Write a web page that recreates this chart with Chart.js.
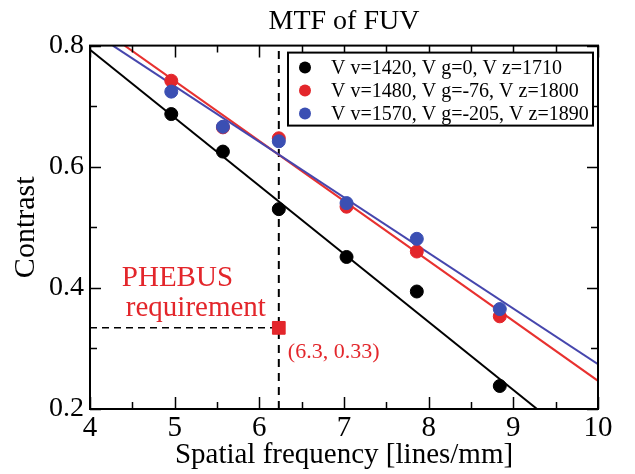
<!DOCTYPE html>
<html lang="en">
<head>
<meta charset="utf-8">
<title>MTF of FUV</title>
<script src="https://cdn.jsdelivr.net/npm/chart.js"></script>
<style>
  body { margin: 0; background: #fff; }
</style>
</head>
<body>
<canvas id="mtfChart" width="635" height="474"></canvas>
<script>
// measured points (spatial frequency vs contrast)
const freqs = [4.96, 5.57, 6.23, 7.03, 7.86, 8.84];
const contrast1420 = [0.687, 0.625, 0.530, 0.451, 0.394, 0.238];
const contrast1480 = [0.742, 0.665, 0.647, 0.534, 0.460, 0.353];
const contrast1570 = [0.724, 0.666, 0.642, 0.540, 0.481, 0.365];
const seriesLabels = ['V v=1420, V g=0, V z=1710', 'V v=1480, V g=-76, V z=1800', 'V v=1570, V g=-205, V z=1890'];

// fitted lines, end points
const fit1420 = [[4.0, 0.793], [9.28, 0.2]];
const fit1480 = [[4.41, 0.8], [10.0, 0.2465]];
const fit1570 = [[4.27, 0.8], [10.0, 0.274]];

// PHEBUS requirement
const reqPoint = [6.23, 0.334];
const reqText = ['PHEBUS', 'requirement'];
const reqLabel = '(6.3, 0.33)';

const xRange = [4, 10];
const yRange = [0.2, 0.8];

const RED = '#e3262b';
const BLUE = '#3b4fb3';
const SERIF = "'Liberation Serif', 'Times New Roman', serif";

const pts = (xs, ys) => xs.map((x, i) => ({ x: x, y: ys[i] }));
const seg = (a) => a.map(p => ({ x: p[0], y: p[1] }));

const ctx = document.getElementById('mtfChart').getContext('2d');

// frame, inward ticks, legend box and the red notes
const decorPlugin = {
  id: 'decor',
  afterDatasetsDraw(chart) {
    const c = chart.ctx;
    const a = chart.chartArea;
    const xs = chart.scales.x, ys = chart.scales.y;
    c.save();
    c.strokeStyle = '#000';
    c.lineWidth = 2;
    c.strokeRect(a.left, a.top, a.right - a.left, a.bottom - a.top);

    // x ticks every 0.5, top and bottom
    c.lineWidth = 1.5;
    for (let v = xRange[0]; v <= xRange[1] + 1e-9; v += 0.5) {
      const px = Math.round(xs.getPixelForValue(v)) + 0.5;
      const len = Number.isInteger(v) ? 12 : 7;
      c.beginPath();
      c.moveTo(px, a.bottom); c.lineTo(px, a.bottom - len);
      c.moveTo(px, a.top); c.lineTo(px, a.top + len);
      c.stroke();
    }
    // y ticks every 0.1, left and right
    for (let k = 0; k <= 6; k++) {
      const v = yRange[0] + k * 0.1;
      const py = Math.round(ys.getPixelForValue(v)) + 0.5;
      const len = k % 2 === 0 ? 11 : 7;
      c.beginPath();
      c.moveTo(a.left, py); c.lineTo(a.left + len, py);
      c.moveTo(a.right, py); c.lineTo(a.right - len, py);
      c.stroke();
    }

    // legend
    const lx = a.left + 198, ly = a.top + 7, lw = a.right - 5 - lx, lh = 73;
    c.fillStyle = '#fff';
    c.fillRect(lx, ly, lw, lh);
    c.lineWidth = 2;
    c.strokeRect(lx, ly, lw, lh);
    c.font = '20px ' + SERIF;
    c.textBaseline = 'middle';
    c.textAlign = 'left';
    chart.data.datasets
      .filter(d => d.legendRow !== undefined)
      .sort((p, q) => p.legendRow - q.legendRow)
      .forEach((d, i) => {
        const ry = ly + 15 + i * 23;
        c.fillStyle = d.backgroundColor;
        c.beginPath();
        c.arc(lx + 17, ry, 6, 0, Math.PI * 2);
        c.fill();
        c.fillStyle = '#000';
        c.fillText(d.label, lx + 43, ry + 1);
      });

    // requirement notes
    const rx = xs.getPixelForValue(reqPoint[0]);
    const ry = ys.getPixelForValue(reqPoint[1]);
    c.fillStyle = RED;
    c.font = '29px ' + SERIF;
    c.textBaseline = 'alphabetic';
    c.fillText(reqText[0], rx - 157, ry - 42);
    c.fillText(reqText[1], rx - 153, ry - 12);
    c.font = '22px ' + SERIF;
    c.fillText(reqLabel, rx + 9, ry + 30);
    c.restore();
  }
};

new Chart(ctx, {
  type: 'scatter',
  data: {
    datasets: [
      { label: seriesLabels[2], legendRow: 2, data: pts(freqs, contrast1570), backgroundColor: BLUE, borderColor: BLUE, pointRadius: 6.5, showLine: false, order: 0 },
      { label: seriesLabels[1], legendRow: 1, data: pts(freqs, contrast1480), backgroundColor: RED, borderColor: RED, pointRadius: 6.5, showLine: false, order: 1 },
      { label: seriesLabels[0], legendRow: 0, data: pts(freqs, contrast1420), backgroundColor: '#000', borderColor: '#000', pointRadius: 6.5, showLine: false, order: 2 },
      { label: 'fit 1570', data: seg(fit1570), showLine: true, borderColor: '#4646ad', borderWidth: 2, pointRadius: 0, order: 4 },
      { label: 'fit 1480', data: seg(fit1480), showLine: true, borderColor: '#e8312f', borderWidth: 2, pointRadius: 0, order: 5 },
      { label: 'fit 1420', data: seg(fit1420), showLine: true, borderColor: '#000', borderWidth: 2, pointRadius: 0, order: 6 },
      { label: 'req x', data: [{ x: reqPoint[0], y: yRange[0] }, { x: reqPoint[0], y: yRange[1] }], showLine: true, borderColor: '#000', borderWidth: 2, borderDash: [8, 6], pointRadius: 0, order: 7 },
      { label: 'req y', data: [{ x: xRange[0], y: reqPoint[1] }, { x: reqPoint[0], y: reqPoint[1] }], showLine: true, borderColor: '#000', borderWidth: 1.5, borderDash: [7, 5], pointRadius: 0, order: 8 },
      { label: 'req', data: [{ x: reqPoint[0], y: reqPoint[1] }], pointStyle: 'rect', pointRadius: 9, backgroundColor: RED, borderColor: RED, showLine: false, order: 3 }
    ]
  },
  options: {
    responsive: false,
    animation: false,
    layout: { padding: { top: 0, right: 37, left: 0, bottom: 0 } },
    plugins: {
      legend: { display: false },
      tooltip: { enabled: false },
      title: {
        display: true,
        text: 'MTF of FUV',
        fullSize: false,
        color: '#000',
        font: { family: SERIF, size: 28, weight: 'normal' },
        padding: { top: 5, bottom: 7 }
      }
    },
    scales: {
      x: {
        type: 'linear',
        min: xRange[0], max: xRange[1],
        grid: { drawOnChartArea: false, drawTicks: false },
        border: { display: false },
        ticks: { stepSize: 1, color: '#000', padding: 2, font: { family: SERIF, size: 29 } },
        title: { display: true, text: 'Spatial frequency [lines/mm]', color: '#000', font: { family: SERIF, size: 29 }, padding: { top: 0, bottom: 1 } },
        afterFit: (s) => { s.height = 65; }
      },
      y: {
        min: yRange[0], max: yRange[1],
        grid: { drawOnChartArea: false, drawTicks: false },
        border: { display: false },
        ticks: { stepSize: 0.2, color: '#000', padding: 6, font: { family: SERIF, size: 28 }, callback: (v) => v.toFixed(1) },
        title: { display: true, text: 'Contrast', color: '#000', font: { family: SERIF, size: 30 }, padding: { top: 8, bottom: 0 } },
        afterFit: (s) => { s.width = 90; }
      }
    }
  },
  plugins: [decorPlugin]
});
</script>
</body>
</html>
